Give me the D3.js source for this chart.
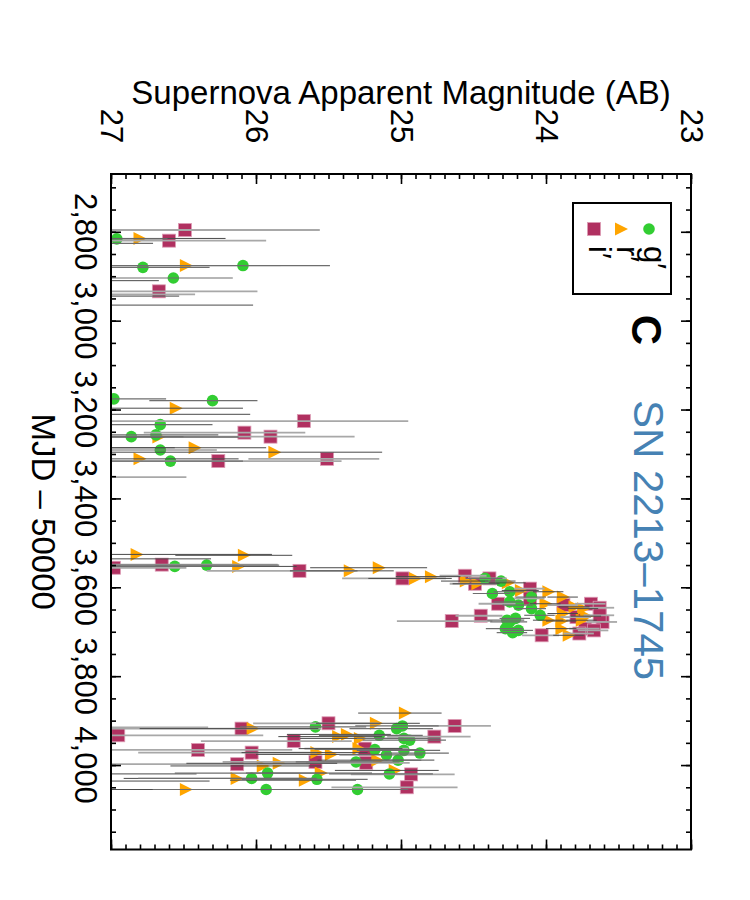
<!DOCTYPE html>
<html>
<head>
<meta charset="utf-8">
<script src="https://cdn.jsdelivr.net/npm/d3@7"></script>
<style>
  body { margin: 0; background: #fff; }
  text { font-family: "Liberation Sans", Arial, sans-serif; }
</style>
</head>
<body>
<div id="chart"></div>
<script>
// light curve points per filter: [MJD - 50000, AB magnitude, error on the bright side]
// points fainter than 27 only show their error bar
var gBand = [
  [2816, 26.96, 0.35], [2880, 26.78, 0.46], [2876, 26.09, 0.60], [2904, 26.57, 0.41],
  [2826, 27.50, 0.79], [2945, 27.40, 0.87],
  [3176, 26.98, 0.36], [3180, 26.30, 0.31], [3234, 26.66, 0.36], [3261, 26.86, 0.36],
  [3257, 26.69, 0.43], [3291, 26.66, 0.39], [3316, 26.59, 0.50], [3211, 27.20, 1.16],
  [3553, 26.56, 0.47], [3550, 26.34, 0.50],
  [3580, 24.42, 0.12], [3586, 24.31, 0.10], [3614, 24.37, 0.12], [3610, 24.25, 0.10],
  [3633, 24.25, 0.10], [3640, 24.19, 0.10], [3622, 24.10, 0.10], [3648, 24.10, 0.10],
  [3663, 24.04, 0.10], [3678, 24.25, 0.12], [3670, 24.21, 0.10], [3674, 24.27, 0.12],
  [3693, 24.28, 0.12], [3702, 24.23, 0.10], [3697, 24.19, 0.10],
  [3914, 25.59, 0.35], [4018, 25.92, 0.40], [4030, 26.03, 0.45], [4032, 25.58, 0.35],
  [4055, 25.93, 0.45], [3933, 25.15, 0.30], [3918, 25.03, 0.25], [3912, 24.99, 0.25],
  [3940, 24.98, 0.25], [3944, 24.94, 0.25], [3965, 25.18, 0.30], [3977, 25.10, 0.25],
  [3967, 24.98, 0.25], [3973, 24.87, 0.20], [3989, 25.02, 0.25], [3993, 25.31, 0.30],
  [4020, 25.08, 0.30], [4055, 25.30, 0.35], [4020, 27.30, 0.89]
];
var rBand = [
  [2815, 26.80, 0.59], [2876, 26.48, 0.65], [2910, 27.30, 0.63], [2965, 27.20, 1.18],
  [3197, 26.55, 0.46], [3262, 26.67, 0.55], [3286, 26.42, 0.49], [3296, 25.87, 0.74],
  [3311, 26.80, 0.68], [3286, 27.30, 0.74],
  [3526, 26.82, 0.93], [3528, 26.08, 0.33], [3553, 26.12, 0.40], [3563, 25.35, 0.30],
  [3556, 25.15, 0.33], [3536, 27.30, 0.99],
  [3580, 24.90, 0.25], [3576, 24.79, 0.20], [3586, 24.55, 0.15], [3592, 24.47, 0.15],
  [3590, 24.26, 0.12], [3607, 24.17, 0.12], [3610, 23.98, 0.10], [3622, 23.88, 0.10],
  [3637, 24.00, 0.10], [3644, 23.80, 0.10], [3648, 23.74, 0.10], [3674, 23.98, 0.10],
  [3676, 23.89, 0.10], [3659, 23.88, 0.10], [3674, 23.75, 0.10], [3693, 23.89, 0.10],
  [3708, 23.84, 0.10], [3665, 23.72, 0.10],
  [3918, 26.02, 0.45], [3936, 25.43, 0.30], [3931, 25.37, 0.30], [3972, 25.58, 0.35],
  [3976, 25.48, 0.35], [4002, 25.95, 0.40], [3996, 25.84, 0.40], [4030, 26.13, 0.45],
  [4034, 25.66, 0.35], [4018, 25.55, 0.35], [4055, 26.48, 0.50], [3883, 24.97, 0.25],
  [3906, 25.17, 0.30], [3940, 25.28, 0.30], [3963, 25.29, 0.30], [3989, 25.16, 0.30],
  [4012, 25.04, 0.30], [4036, 27.40, 1.08]
];
var iBand = [
  [2796, 26.49, 0.93], [2820, 26.60, 0.67], [2934, 26.67, 0.68], [2941, 27.30, 0.88],
  [3226, 25.67, 0.72], [3252, 26.08, 0.42], [3261, 25.90, 0.58], [3316, 26.26, 0.85],
  [3311, 25.51, 0.36], [3352, 27.30, 0.82],
  [3556, 26.98, 0.50], [3549, 26.65, 0.80], [3563, 25.70, 0.40],
  [3580, 24.99, 0.30], [3574, 24.56, 0.15], [3592, 24.49, 0.15], [3580, 24.39, 0.12],
  [3603, 24.11, 0.10], [3637, 24.33, 0.12], [3625, 24.11, 0.10], [3640, 23.88, 0.10],
  [3637, 23.69, 0.10], [3646, 23.63, 0.10], [3678, 23.61, 0.10], [3663, 23.63, 0.10],
  [3667, 23.79, 0.10], [3693, 23.73, 0.10], [3704, 23.77, 0.10], [3708, 24.03, 0.12],
  [3664, 24.45, 0.15], [3676, 24.65, 0.28], [3697, 23.67, 0.10],
  [3933, 26.95, 1.00], [3918, 26.10, 0.55], [3906, 25.50, 0.35], [3946, 25.74, 0.40],
  [3966, 26.40, 0.65], [3972, 26.03, 0.45], [3998, 26.13, 0.50], [3993, 25.59, 0.40],
  [3912, 24.63, 0.25], [3936, 24.77, 0.25], [3963, 25.25, 0.30], [3995, 25.24, 0.30],
  [4021, 24.93, 0.30], [4050, 24.96, 0.35], [3915, 27.40, 1.07]
];

var magTicks = [27, 26, 25, 24, 23];
var mjdTicks = [2800, 3000, 3200, 3400, 3600, 3800, 4000];
var legendLabels = ["g\u2032", "r\u2032", "i\u2032"];
var magTitle = "Supernova Apparent Magnitude (AB)";
var mjdTitle = "MJD \u2013 50000";
var panelLabel = "C";
var snName = "SN 2213\u20131745";

var width = 750;
var height = 900;
var plotL = 111, plotR = 691, plotT = 174, plotB = 849.5;

var svg = d3.select('#chart')
  .append('svg')
  .attr('width', width)
  .attr('height', height);

var x = d3.scaleLinear().domain([27, 23]).range([plotL, plotR]);
var y = d3.scaleLinear().domain([2670, 4190]).range([plotT, plotB]);

svg.append('clipPath').attr('id', 'plotclip')
  .append('rect')
  .attr('x', plotL).attr('y', plotT)
  .attr('width', plotR - plotL).attr('height', plotB - plotT);

// faint-side error from the flux error that the bright side implies
function faintErr(e) {
  var s = Math.pow(10, 0.4 * e) - 1;
  return s >= 0.99 ? 10 : -2.5 * Math.log10(1 - s);
}

var plot = svg.append('g').attr('clip-path', 'url(#plotclip)');

var sq = 13, tri = 6.5;
var bands = [
  { data: iBand, kind: 'square', fill: '#b03060', bar: '#a8a8a8', barW: 1.8 },
  { data: rBand, kind: 'triangle', fill: '#ffa500', bar: '#4a4a4a', barW: 1 },
  { data: gBand, kind: 'circle', fill: '#32cd32', bar: '#6e6e6e', barW: 1.2 }
];

function drawMarker(sel, kind, fill) {
  if (kind === 'circle') {
    sel.append('circle').attr('r', 5.8).attr('fill', fill);
  } else if (kind === 'square') {
    sel.append('rect')
      .attr('x', -sq / 2).attr('y', -sq / 2)
      .attr('width', sq).attr('height', sq)
      .attr('fill', fill)
      .attr('stroke', '#dc9bb4').attr('stroke-width', 0.8);
  } else {
    sel.append('path')
      .attr('d', 'M' + (-tri) + ',' + (-tri) + 'L' + tri + ',0L' + (-tri) + ',' + tri + 'Z')
      .attr('fill', fill);
  }
}

// markers
bands.forEach(function(b) {
  plot.append('g').selectAll('g')
    .data(b.data)
    .enter().append('g')
      .attr('transform', d => 'translate(' + x(d[1]) + ',' + y(d[0]) + ')')
      .each(function() { drawMarker(d3.select(this), b.kind, b.fill); });
});

// error bars on top of markers
bands.forEach(function(b) {
  plot.append('g').selectAll('line')
    .data(b.data)
    .enter().append('line')
      .attr('x1', d => x(d[1] + faintErr(d[2])))
      .attr('x2', d => x(d[1] - d[2]))
      .attr('y1', d => y(d[0]))
      .attr('y2', d => y(d[0]))
      .attr('stroke', b.bar)
      .attr('stroke-width', b.barW);
});

// ticks on all four sides, pointing in
var magMinor = d3.range(230, 271).map(v => v / 10);
var mjdMinor = d3.range(2700, 4191, 50);

var sides = [
  [function() { return d3.axisTop(x); }, 'translate(0,' + plotT + ')', magMinor, magTicks],
  [function() { return d3.axisBottom(x); }, 'translate(0,' + plotB + ')', magMinor, magTicks],
  [function() { return d3.axisLeft(y); }, 'translate(' + plotL + ',0)', mjdMinor, mjdTicks],
  [function() { return d3.axisRight(y); }, 'translate(' + plotR + ',0)', mjdMinor, mjdTicks]
];
sides.forEach(function(s) {
  [[s[2], 5], [s[3], 10]].forEach(function(t) {
    var g = svg.append('g').attr('transform', s[1])
      .call(s[0]().tickValues(t[0]).tickSizeInner(-t[1]).tickSizeOuter(0).tickFormat(''));
    g.select('.domain').remove();
    g.selectAll('line').attr('stroke', '#000').attr('stroke-width', 1.6);
  });
});

svg.append('rect')
  .attr('x', plotL).attr('y', plotT)
  .attr('width', plotR - plotL).attr('height', plotB - plotT)
  .attr('fill', 'none').attr('stroke', '#000').attr('stroke-width', 2);

// tick labels, turned a quarter clockwise
svg.append('g').selectAll('text')
  .data(magTicks)
  .enter().append('text')
    .attr('transform', d => 'translate(' + x(d) + ',126) rotate(90)')
    .attr('text-anchor', 'middle')
    .attr('dominant-baseline', 'central')
    .attr('font-size', 31)
    .text(d => d);

svg.append('g').selectAll('text')
  .data(mjdTicks)
  .enter().append('text')
    .attr('transform', d => 'translate(85,' + y(d) + ') rotate(90)')
    .attr('text-anchor', 'middle')
    .attr('dominant-baseline', 'central')
    .attr('font-size', 31)
    .text(d => d3.format(',')(d));

// axis titles
svg.append('text')
  .attr('x', (plotL + plotR) / 2).attr('y', 104)
  .attr('text-anchor', 'middle')
  .attr('font-size', 33)
  .text(magTitle);

svg.append('text')
  .attr('transform', 'translate(43,' + (plotT + plotB) / 2 + ') rotate(90)')
  .attr('text-anchor', 'middle')
  .attr('dominant-baseline', 'central')
  .attr('font-size', 33)
  .text(mjdTitle);

// panel letter and object name
svg.append('text')
  .attr('transform', 'translate(646,330) rotate(90)')
  .attr('text-anchor', 'middle')
  .attr('dominant-baseline', 'central')
  .attr('font-size', 42)
  .attr('font-weight', 'bold')
  .text(panelLabel);

svg.append('text')
  .attr('transform', 'translate(648,540) rotate(90)')
  .attr('text-anchor', 'middle')
  .attr('dominant-baseline', 'central')
  .attr('font-size', 42)
  .attr('fill', '#4682b4')
  .text(snName);

// legend
var legend = svg.append('g');
legend.append('rect')
  .attr('x', 573).attr('y', 203)
  .attr('width', 98).attr('height', 91)
  .attr('fill', '#fff').attr('stroke', '#000').attr('stroke-width', 2);

var legendRows = [
  { kind: 'circle', fill: '#32cd32', mx: 649 },
  { kind: 'triangle', fill: '#ffa500', mx: 621.5 },
  { kind: 'square', fill: '#b03060', mx: 594 }
];
legendRows.forEach(function(r, i) {
  var m = legend.append('g').attr('transform', 'translate(' + r.mx + ',229)');
  drawMarker(m, r.kind, r.fill);
  legend.append('text')
    .attr('transform', 'translate(' + (r.mx - 5) + ',246) rotate(90)')
    .attr('font-size', 31)
    .text(legendLabels[i]);
});
</script>
</body>
</html>
